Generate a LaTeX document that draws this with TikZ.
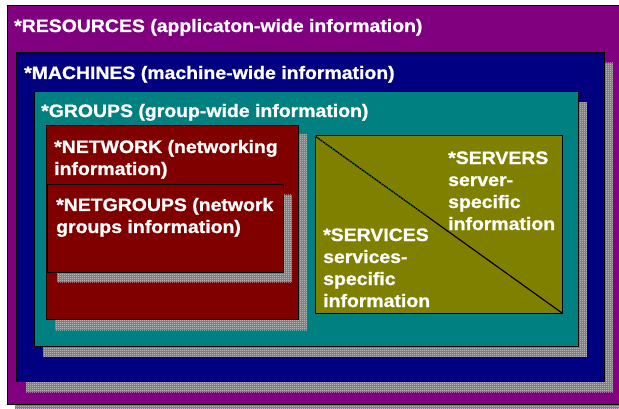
\documentclass[tikz,border=0pt]{standalone}
\usepackage{fontspec}
\setmainfont{Liberation Sans}[FakeStretch=1.08, BoldFeatures={FakeBold=1}]
\usetikzlibrary{patterns,calc}
\pgfdeclarepatternformonly{finedots}{\pgfqpoint{0pt}{0pt}}{\pgfqpoint{2pt}{2pt}}{\pgfqpoint{2pt}{2pt}}{%
  \pgfpathrectangle{\pgfqpoint{0pt}{0pt}}{\pgfqpoint{1pt}{1pt}}\pgfusepath{fill}}
\definecolor{cpurple}{HTML}{800080}
\definecolor{cnavy}{HTML}{000080}
\definecolor{cteal}{HTML}{008080}
\definecolor{cmaroon}{HTML}{800000}
\definecolor{colive}{HTML}{808000}
\begin{document}
\begin{tikzpicture}[x=1pt,y=-1pt,
  box/.style={draw=black,line width=1pt},
  shadowbox/.style={fill=gray, postaction={pattern=finedots, pattern color=white}},
  lbl/.style={anchor=base west, inner sep=0pt, text=white, align=left,
    font=\fontsize{18}{22}\selectfont\bfseries}]
\useasboundingbox (0,0) rectangle (619,409);
% resources
\fill[shadowbox] (15,14) rectangle (619,409);
\fill[box,fill=cpurple] (7,6) rectangle (619,404);
% machines
\fill[shadowbox] (26,63) rectangle (613,392);
\fill[box,fill=cnavy] (16,53) rectangle (604,381);
% groups
\fill[shadowbox] (43,102) rectangle (587,357);
\fill[box,fill=cteal] (34,92) rectangle (578,346);
% network
\fill[shadowbox] (55,134) rectangle (307,330);
\fill[box,fill=cmaroon] (46,126) rectangle (298,319);
% netgroups
\fill[shadowbox] (57,195) rectangle (292,282);
\fill[box,fill=cmaroon] (47,185) rectangle (283,272);
% servers / services
\fill[box,fill=colive] (315,136) rectangle (562,313);
\coordinate (olvTL) at (315,136);
\coordinate (olvBR) at (562,313);
\coordinate (olvMid) at ($(olvTL)!0.45!(olvBR)$);
\draw[black,line width=1.2pt] (olvTL) -- (olvBR);
\draw[cteal,line width=0.7pt,dash pattern=on 1pt off 2pt] (olvTL) -- (olvMid);
% labels (base anchor = baseline of the last line)
\node[lbl] (res) at (14,32) {*RESOURCES (applicaton-wide information)};
\node[lbl] (mach) at (24,79) {*MACHINES (machine-wide information)};
\node[lbl] (grp) at (41,117) {*GROUPS (group-wide information)};
\node[lbl] (net) at (54,175) {*NETWORK (networking\\information)};
\node[lbl] (netg) at (56,233) {*NETGROUPS (network\\groups information)};
\node[lbl] (srv) at (448,230) {*SERVERS\\server-\\specific\\information};
\node[lbl] (svc) at (323,307) {*SERVICES\\services-\\specific\\information};
\end{tikzpicture}
\end{document}
